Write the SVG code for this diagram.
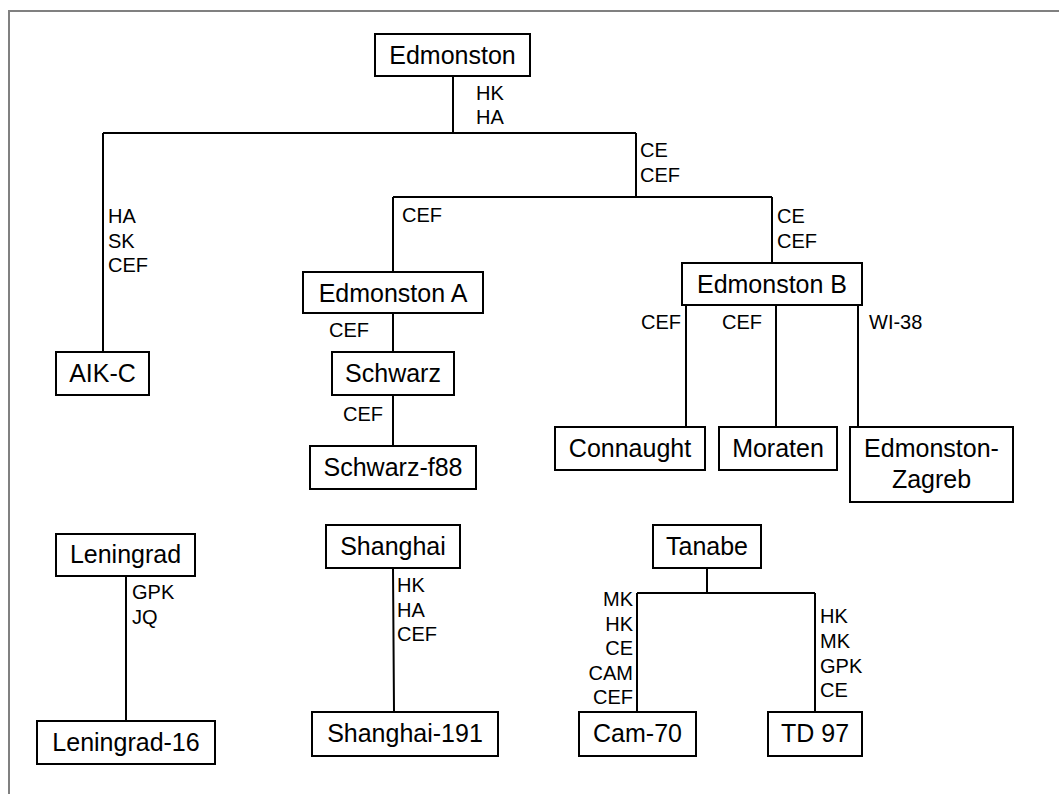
<svg xmlns="http://www.w3.org/2000/svg" width="1059" height="794" viewBox="0 0 1059 794">
<style>
.box{fill:#fff;stroke:#000;stroke-width:2}
.nt{font-family:"Liberation Sans",Arial,sans-serif;font-size:25px;fill:#000;text-anchor:middle}
.lb{font-family:"Liberation Sans",Arial,sans-serif;font-size:20px;fill:#000}
.r{text-anchor:end}
.ln{stroke:#000;stroke-width:2;fill:none}
</style>
<rect width="1059" height="794" fill="#fff"/>
<path d="M9,794 V11 H1059" fill="none" stroke="#808080" stroke-width="2"/>
<g id="connectors">
<path class="ln" d="M453,76 V133 M103,133 H636 M103,133 V352 M636,133 V197 M393,197 H772 M393,197 V272 M772,197 V263"/>
<path class="ln" d="M393,313 V352 M393,395 V446"/>
<path class="ln" d="M686,305 V427 M776,305 V427 M858,305 V427"/>
<path class="ln" d="M126,576 V721 M393,568 L394,712"/>
<path class="ln" d="M707,568 V593 M637,593 H815 M637,593 V712 M815,593 V712"/>
<text class="lb" x="476" y="100">HK</text>
<text class="lb" x="476" y="124">HA</text>
<text class="lb" x="108" y="223">HA</text>
<text class="lb" x="108" y="248">SK</text>
<text class="lb" x="108" y="272">CEF</text>
<text class="lb" x="640" y="157">CE</text>
<text class="lb" x="640" y="182">CEF</text>
<text class="lb" x="402" y="222">CEF</text>
<text class="lb" x="777" y="223">CE</text>
<text class="lb" x="777" y="248">CEF</text>
<text class="lb r" x="369" y="337">CEF</text>
<text class="lb r" x="383" y="421">CEF</text>
<text class="lb r" x="681" y="329">CEF</text>
<text class="lb r" x="762" y="329">CEF</text>
<text class="lb" x="869" y="329">WI-38</text>
<text class="lb" x="132" y="599">GPK</text>
<text class="lb" x="132" y="624">JQ</text>
<text class="lb" x="397" y="592">HK</text>
<text class="lb" x="397" y="617">HA</text>
<text class="lb" x="397" y="641">CEF</text>
<text class="lb r" x="633" y="606">MK</text>
<text class="lb r" x="633" y="631">HK</text>
<text class="lb r" x="633" y="655">CE</text>
<text class="lb r" x="633" y="680">CAM</text>
<text class="lb r" x="633" y="704">CEF</text>
<text class="lb" x="820" y="623">HK</text>
<text class="lb" x="820" y="648">MK</text>
<text class="lb" x="820" y="673">GPK</text>
<text class="lb" x="820" y="697">CE</text>
</g>
<g id="edmonston"><rect class="box" x="375" y="34" width="155" height="42"/><text class="nt" x="452.5" y="64">Edmonston</text></g>
<g id="aikc"><rect class="box" x="56" y="352" width="93" height="43"/><text class="nt" x="102.5" y="382">AIK-C</text></g>
<g id="edmonstonA"><rect class="box" x="303" y="272" width="180" height="41"/><text class="nt" x="393" y="302">Edmonston A</text></g>
<g id="schwarz"><rect class="box" x="332" y="352" width="122" height="43"/><text class="nt" x="393" y="382">Schwarz</text></g>
<g id="schwarzf88"><rect class="box" x="310" y="446" width="166" height="43"/><text class="nt" x="393" y="476">Schwarz-f88</text></g>
<g id="edmonstonB"><rect class="box" x="682" y="263" width="180" height="42"/><text class="nt" x="772" y="293">Edmonston B</text></g>
<g id="connaught"><rect class="box" x="555" y="427" width="150" height="43"/><text class="nt" x="630" y="457">Connaught</text></g>
<g id="moraten"><rect class="box" x="719" y="427" width="118" height="43"/><text class="nt" x="778" y="457">Moraten</text></g>
<g id="edmonstonZagreb"><rect class="box" x="850" y="427" width="163" height="75"/><text class="nt" x="931.5" y="457">Edmonston-</text><text class="nt" x="931.5" y="488">Zagreb</text></g>
<g id="leningrad"><rect class="box" x="56" y="534" width="139" height="42"/><text class="nt" x="125.5" y="563">Leningrad</text></g>
<g id="leningrad16"><rect class="box" x="37" y="721" width="178" height="43"/><text class="nt" x="126" y="751">Leningrad-16</text></g>
<g id="shanghai"><rect class="box" x="326" y="525" width="134" height="43"/><text class="nt" x="393" y="555">Shanghai</text></g>
<g id="shanghai191"><rect class="box" x="312" y="712" width="186" height="44"/><text class="nt" x="405" y="742">Shanghai-191</text></g>
<g id="tanabe"><rect class="box" x="653" y="525" width="108" height="43"/><text class="nt" x="707" y="555">Tanabe</text></g>
<g id="cam70"><rect class="box" x="579" y="712" width="117" height="44"/><text class="nt" x="637.5" y="742">Cam-70</text></g>
<g id="td97"><rect class="box" x="768" y="712" width="94" height="44"/><text class="nt" x="815" y="742">TD 97</text></g>
</svg>
